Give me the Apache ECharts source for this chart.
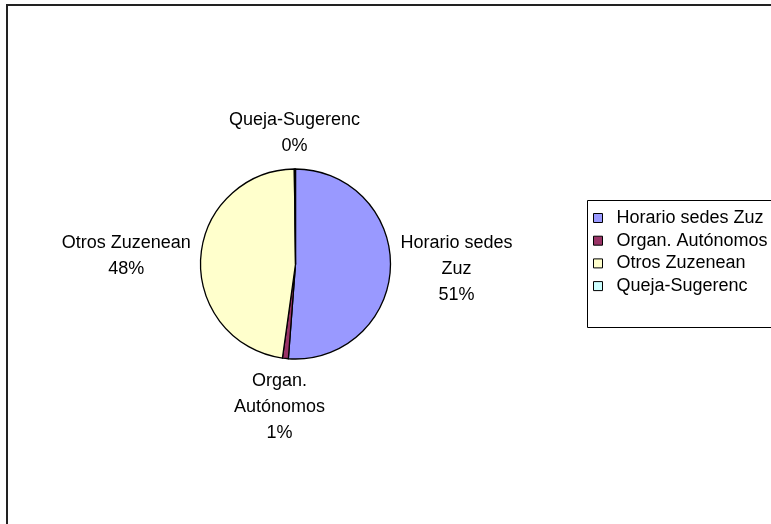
<!DOCTYPE html>
<html>
<head>
<meta charset="utf-8">
<script src="https://cdn.jsdelivr.net/npm/echarts@6/dist/echarts.min.js"></script>
<style>
  html, body { margin: 0; padding: 0; background: #fff; }
  #chart { width: 771px; height: 524px; }
</style>
</head>
<body>
<div id="chart"></div>
<script>
// data
var categories = ['Horario sedes Zuz', 'Organ. Autónomos', 'Otros Zuzenean', 'Queja-Sugerenc'];
var labelTexts = ['Horario sedes\nZuz', 'Organ.\nAutónomos', 'Otros Zuzenean', 'Queja-Sugerenc'];
var values = [51.2, 1.0, 47.6, 0.2];
var colors = ['#9999FF', '#993366', '#FFFFCC', '#CCFFFF'];

// pie geometry
var cx = 295.5, cy = 264, R = 95, gap = 10;

// mid angle of each slice, clockwise from 12 o'clock
var total = values.reduce(function (a, b) { return a + b; }, 0);
var midAngles = [];
var acc = 0;
for (var i = 0; i < values.length; i++) {
    midAngles.push((acc + values[i] / 2) / total * Math.PI * 2);
    acc += values[i];
}

var chart = echarts.init(document.getElementById('chart'));

var option = {
    animation: false,
    backgroundColor: '#fff',
    textStyle: { fontFamily: 'Liberation Sans, Arial, sans-serif' },
    graphic: [
        {
            type: 'rect',
            shape: { x: 7, y: 5, width: 820, height: 600 },
            style: { fill: 'none', stroke: '#222', lineWidth: 2 },
            silent: true
        },
        {
            type: 'rect',
            shape: { x: 587.5, y: 200.5, width: 300, height: 127 },
            style: { fill: 'none', stroke: '#000', lineWidth: 1 },
            silent: true
        }
    ],
    legend: {
        orient: 'vertical',
        left: 593,
        top: 209,
        padding: 0,
        icon: 'rect',
        itemWidth: 9,
        itemHeight: 9,
        itemGap: 4.7,
        selectedMode: false,
        itemStyle: { borderColor: '#000', borderWidth: 1 },
        textStyle: {
            fontFamily: 'Liberation Sans, Arial, sans-serif',
            fontSize: 18,
            lineHeight: 18,
            color: '#000',
            padding: [0, 0, 0, 9]
        },
        data: categories
    },
    series: [{
        type: 'pie',
        center: [cx, cy],
        radius: R,
        startAngle: 90,
        clockwise: true,
        avoidLabelOverlap: false,
        emphasis: { scale: false },
        itemStyle: { borderColor: '#000', borderWidth: 1.3 },
        label: {
            show: true,
            position: 'outside',
            fontFamily: 'Liberation Sans, Arial, sans-serif',
            fontSize: 18,
            lineHeight: 26,
            color: '#000',
            align: 'center',
            formatter: function (p) {
                return labelTexts[p.dataIndex] + '\n' + Math.round(p.percent) + '%';
            }
        },
        labelLine: { show: false },
        labelLayout: function (p) {
            var a = midAngles[p.dataIndex];
            var ux = Math.sin(a), uy = -Math.cos(a);
            var w = p.labelRect.width, h = p.labelRect.height;
            return {
                x: cx + (R + gap) * ux + ux * w / 2,
                y: cy + (R + gap) * uy + uy * h / 2,
                align: 'center',
                verticalAlign: 'middle'
            };
        },
        data: categories.map(function (c, i) {
            return { name: c, value: values[i], itemStyle: { color: colors[i] } };
        })
    }]
};

chart.setOption(option);
window.onresize = function () {
    chart.resize();
};
</script>
</body>
</html>
